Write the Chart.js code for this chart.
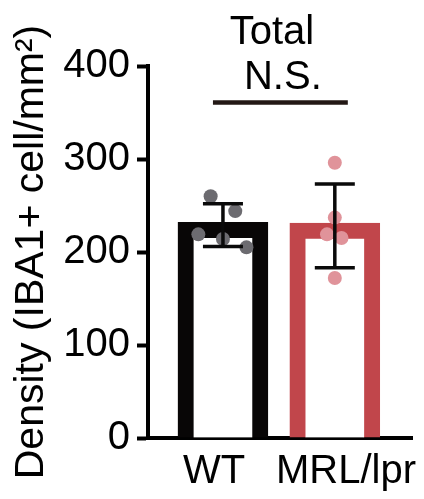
<!DOCTYPE html>
<html>
<head>
<meta charset="utf-8">
<script src="https://cdn.jsdelivr.net/npm/chart.js@4/dist/chart.umd.min.js"></script>
<style>
  body { margin: 0; background: #fff; }
  #wrap { width: 424px; height: 499px; position: relative; }
</style>
</head>
<body>
<div id="wrap"><canvas id="densityChart"></canvas></div>
<script>
// data
const groups = ['WT', 'MRL/lpr'];
const means = [232, 231];
const sdHigh = [252, 273];
const sdLow = [206, 183];
const wtPoints = [260, 244, 219, 214, 205];
const mrlPoints = [296, 237, 219, 215, 172];
// horizontal scatter of the dots, in category units
const wtJitter = [-0.11, 0.11, -0.22, 0, 0.21];
const mrlJitter = [0, 0, -0.07, 0.06, 0];
const yTicks = [0, 100, 200, 300, 400];

const barColors = ['#080606', '#c1464b'];
const dotColors = ['#6c6b70', '#e0939a'];

Chart.defaults.font.family = "'Liberation Sans', Arial, sans-serif";
Chart.defaults.color = '#000';

const barData = groups.map((g, i) => ({ x: i + 1, y: means[i] }));
const wtDots = wtPoints.map((v, i) => ({ x: 1 + wtJitter[i], y: v }));
const mrlDots = mrlPoints.map((v, i) => ({ x: 2 + mrlJitter[i], y: v }));

// error bars (mean +/- SD)
const errorBars = {
    id: 'errorBars',
    afterDatasetsDraw(chart) {
        const c = chart.ctx;
        const xs = chart.scales.xb, ys = chart.scales.y;
        c.save();
        c.strokeStyle = '#0a0a0a';
        c.lineWidth = 3.5;
        groups.forEach((g, i) => {
            const x = xs.getPixelForValue(i + 1);
            const yHi = ys.getPixelForValue(sdHigh[i]);
            const yLo = ys.getPixelForValue(sdLow[i]);
            c.beginPath();
            c.moveTo(x, yHi); c.lineTo(x, yLo);
            c.moveTo(x - 20, yHi); c.lineTo(x + 20, yHi);
            c.moveTo(x - 20, yLo); c.lineTo(x + 20, yLo);
            c.stroke();
        });
        c.restore();
    }
};

// "Total" / "N.S." header with the comparison line
const header = {
    id: 'header',
    afterDraw(chart) {
        const c = chart.ctx;
        const xs = chart.scales.xb;
        const top = chart.chartArea.top;
        const x1 = xs.getPixelForValue(1), x2 = xs.getPixelForValue(2);
        const cx = (x1 + x2) / 2;
        c.save();
        c.fillStyle = '#000';
        c.textAlign = 'center';
        c.textBaseline = 'alphabetic';
        c.font = "40px 'Liberation Sans', Arial, sans-serif";
        c.fillText('Total', cx - 7, top - 22);
        c.fillText('N.S.', cx + 4, top + 23);
        c.strokeStyle = '#231815';
        c.lineWidth = 4.5;
        c.beginPath();
        c.moveTo(x1 - 10, top + 36.5);
        c.lineTo(x2 + 13, top + 36.5);
        c.stroke();
        c.restore();
    }
};

const ctx = document.getElementById('densityChart').getContext('2d');
const densityChart = new Chart(ctx, {
    type: 'bar',
    data: {
        labels: groups,
        datasets: [{
            type: 'scatter',
            label: 'dots',
            data: wtDots.concat(mrlDots),
            xAxisID: 'xb',
            yAxisID: 'y',
            pointRadius: 7,
            pointBorderWidth: 0,
            pointBackgroundColor: wtDots.map(() => dotColors[0]).concat(mrlDots.map(() => dotColors[1])),
            order: 1
        }, {
            label: 'Density',
            data: barData,
            xAxisID: 'xb',
            yAxisID: 'y',
            backgroundColor: '#fff',
            borderColor: barColors,
            borderWidth: 16,
            barThickness: 90,
            grouped: false,
            order: 2
        }]
    },
    options: {
        responsive: true,
        maintainAspectRatio: false,
        animation: false,
        layout: { padding: { top: 66, right: 12, left: 0, bottom: 0 } },
        scales: {
            x: {
                type: 'category',
                labels: groups,
                position: 'bottom',
                offset: true,
                grid: { display: false, drawTicks: false },
                border: { display: true, color: '#000', width: 4 },
                ticks: { font: { size: 40 }, padding: 10, maxRotation: 0, autoSkip: false },
                afterFit: s => { s.height = 61; s.paddingLeft = 0; s.paddingRight = 0; }
            },
            xb: {
                type: 'linear',
                display: false,
                offset: false,
                min: 0.33,
                max: 2.69
            },
            y: {
                min: 0,
                max: 400,
                afterBuildTicks: s => { s.ticks = yTicks.map(v => ({ value: v })); },
                ticks: { font: { size: 40 }, padding: 7 },
                grid: { display: true, drawOnChartArea: false, tickLength: 11, tickWidth: 4, tickColor: '#000' },
                border: { display: true, color: '#000', width: 4 },
                title: {
                    display: true,
                    text: 'Density (IBA1+ cell/mm²)',
                    font: { size: 41 },
                    padding: { top: 7, bottom: 0 }
                },
                afterFit: s => { s.width = 148; s.paddingTop = 0; s.paddingBottom = 0; }
            }
        },
        plugins: {
            legend: { display: false },
            tooltip: { enabled: false }
        }
    },
    plugins: [errorBars, header]
});
</script>
</body>
</html>
